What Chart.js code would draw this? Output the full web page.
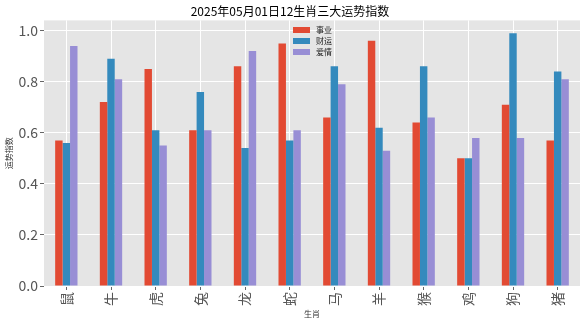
<!DOCTYPE html>
<html>
<head>
<meta charset="utf-8">
<script src="https://cdn.jsdelivr.net/npm/chart.js@4"></script>
<style>
  html, body { margin: 0; padding: 0; background: #fff; }
  #wrap { width: 586px; height: 322px; }
</style>
</head>
<body>
<div id="wrap"><canvas id="myChart" width="586" height="322"></canvas></div>
<script>
// 12生肖
const zodiac = ["鼠", "牛", "虎", "兔", "龙", "蛇", "马", "羊", "猴", "鸡", "狗", "猪"];
const career = [0.57, 0.72, 0.85, 0.61, 0.86, 0.95, 0.66, 0.96, 0.64, 0.50, 0.71, 0.57];
const wealth = [0.56, 0.89, 0.61, 0.76, 0.54, 0.57, 0.86, 0.62, 0.86, 0.50, 0.99, 0.84];
const love   = [0.94, 0.81, 0.55, 0.61, 0.92, 0.61, 0.79, 0.53, 0.66, 0.58, 0.58, 0.81];
const seriesNames = ["事业", "财运", "爱情"];
const yTicks = [0, 0.2, 0.4, 0.6, 0.8, 1.0];

const FONT = "'Noto Sans CJK SC', 'Noto Sans', sans-serif";
const colors = ["#E24A33", "#348ABD", "#988ED5"];

// fondo gris estilo ggplot
const bgPlugin = {
    id: "bg",
    beforeDraw(chart) {
        const { ctx, chartArea: a } = chart;
        ctx.save();
        ctx.fillStyle = "#E5E5E5";
        ctx.fillRect(a.left, a.top, a.right - a.left, a.bottom - a.top);
        ctx.restore();
    }
};

// leyenda dentro del area
const legendPlugin = {
    id: "innerLegend",
    afterDraw(chart) {
        const ctx = chart.ctx;
        const x = 293, y0 = 30, step = 11;
        ctx.save();
        ctx.font = "8px " + FONT;
        ctx.textBaseline = "middle";
        chart.data.datasets.forEach((ds, i) => {
            const y = y0 + i * step;
            ctx.fillStyle = ds.backgroundColor;
            ctx.fillRect(x, y - 3, 17, 6);
            ctx.fillStyle = "#222";
            ctx.fillText(ds.label, x + 23, y);
        });
        ctx.restore();
    }
};

const ctx = document.getElementById("myChart").getContext("2d");
new Chart(ctx, {
    type: "bar",
    data: {
        labels: zodiac,
        datasets: [
            { label: seriesNames[0], data: career, backgroundColor: colors[0] },
            { label: seriesNames[1], data: wealth, backgroundColor: colors[1] },
            { label: seriesNames[2], data: love, backgroundColor: colors[2] }
        ]
    },
    options: {
        responsive: false,
        animation: false,
        layout: { padding: { left: 0, right: 6, top: 0, bottom: 0 } },
        datasets: { bar: { categoryPercentage: 0.5, barPercentage: 1.0 } },
        plugins: {
            legend: { display: false },
            tooltip: { enabled: false },
            title: {
                display: true,
                text: "2025年05月01日12生肖三大运势指数",
                color: "#000",
                font: { family: FONT, size: 12, weight: "normal" },
                padding: { top: 4, bottom: 2 }
            }
        },
        scales: {
            x: {
                grid: { color: "#fff", offset: false, tickColor: "#666", tickLength: 4, lineWidth: 1 },
                border: { display: false },
                ticks: {
                    color: "#555",
                    font: { family: FONT, size: 14 },
                    minRotation: 90,
                    maxRotation: 90,
                    padding: 2
                },
                title: {
                    display: true,
                    text: "生肖",
                    color: "#333",
                    font: { family: FONT, size: 8 },
                    padding: { top: 0, bottom: 3 }
                },
                afterFit: (s) => { s.height = 36; }
            },
            y: {
                min: 0,
                max: 1.04,
                grid: { color: "#fff", tickColor: "#666", tickLength: 4, lineWidth: 1 },
                border: { display: false },
                afterBuildTicks: (s) => { s.ticks = yTicks.map(v => ({ value: v })); },
                ticks: {
                    color: "#555",
                    font: { family: FONT, size: 14 },
                    padding: 2,
                    callback: (v) => Number(v).toFixed(1)
                },
                title: {
                    display: true,
                    text: "运势指数",
                    color: "#333",
                    font: { family: FONT, size: 8 },
                    padding: { top: 4, bottom: 2 }
                },
                afterFit: (s) => { s.width = 44; }
            }
        }
    },
    plugins: [bgPlugin, legendPlugin]
});
</script>
</body>
</html>
